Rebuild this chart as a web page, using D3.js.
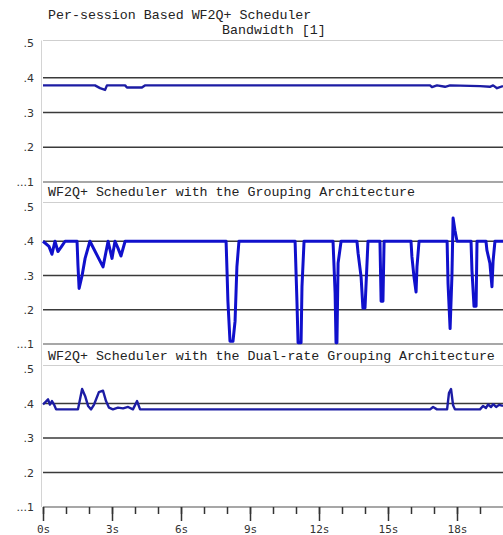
<!DOCTYPE html>
<html lang="en">
<head>
    <meta charset="UTF-8">
    <title>WF2Q+ Scheduler Bandwidth</title>
    <script src="https://d3js.org/d3.v7.min.js"></script>
    <style>
        body {
            margin: 0;
            background: #fff;
        }
        .title {
            font-family: 'Liberation Mono', monospace;
            font-size: 13.3px;
            fill: #222;
        }
        .yaxis text {
            font-family: 'DejaVu Sans', sans-serif;
            font-size: 11px;
            fill: #333;
        }
        .xaxis text {
            font-family: 'DejaVu Sans Mono', monospace;
            font-size: 11px;
            fill: #333;
        }
        .xaxis line {
            stroke: #333;
            stroke-width: 1.5px;
        }
        .yaxis path, .yaxis line, .xaxis path {
            display: none;
        }
    </style>
</head>
<body>
    <div id="chart"></div>

    <script>
        // time (s) and bandwidth for each scheduler
        const perSessionTime = [0, 2.26, 2.48, 2.70, 2.78, 3.57, 3.65, 4.30, 4.43, 16.83, 16.91, 17.13, 17.48, 17.70, 19.0, 19.43, 19.57, 19.74, 20];
        const perSessionBw = [0.378, 0.378, 0.370, 0.365, 0.378, 0.378, 0.372, 0.372, 0.378, 0.378, 0.373, 0.378, 0.374, 0.378, 0.376, 0.374, 0.378, 0.370, 0.376];

        const groupingTime = [0, 0.26, 0.39, 0.52, 0.65, 0.78, 0.96, 1.48, 1.52, 1.57, 1.70, 1.83, 2.04, 2.61, 2.83, 3.0, 3.13, 3.26, 3.39, 3.57,
            7.96, 8.0, 8.04, 8.13, 8.26, 8.35, 8.43, 8.52,
            10.96, 11.04, 11.09, 11.22, 11.26, 11.35,
            12.61, 12.70, 12.74, 12.78, 12.83, 12.96,
            13.65, 13.70, 13.83, 13.91, 14.0, 14.13,
            14.65, 14.70, 14.78, 14.83,
            16.0, 16.04, 16.13, 16.22, 16.26, 16.35,
            17.57, 17.61, 17.70, 17.78, 17.83, 17.91, 18.0,
            18.61, 18.65, 18.74, 18.83, 18.87,
            19.26, 19.30, 19.43, 19.52, 19.57, 19.65, 20];
        const groupingBw = [0.4, 0.385, 0.362, 0.4, 0.37, 0.382, 0.4, 0.4, 0.33, 0.262, 0.30, 0.35, 0.4, 0.325, 0.4, 0.35, 0.4, 0.38, 0.357, 0.4,
            0.4, 0.315, 0.225, 0.108, 0.108, 0.166, 0.325, 0.4,
            0.4, 0.227, 0.104, 0.104, 0.267, 0.4,
            0.4, 0.248, 0.104, 0.104, 0.336, 0.4,
            0.4, 0.365, 0.296, 0.205, 0.205, 0.4,
            0.4, 0.225, 0.225, 0.4,
            0.4, 0.355, 0.296, 0.252, 0.325, 0.4,
            0.4, 0.277, 0.145, 0.30, 0.468, 0.432, 0.4,
            0.4, 0.315, 0.21, 0.21, 0.4,
            0.4, 0.374, 0.336, 0.267, 0.343, 0.4, 0.4];

        const dualRateTime = [0, 0.22, 0.30, 0.39, 0.48, 0.57, 1.52, 1.70, 1.83, 1.96, 2.09, 2.22, 2.43, 2.61, 2.74, 2.87, 3.04, 3.26, 3.48, 3.70, 3.91, 4.09, 4.22,
            16.83, 16.96, 17.13, 17.57, 17.65, 17.74, 17.83, 17.91, 19.0, 19.13, 19.26, 19.35, 19.48, 19.57, 19.70, 19.83, 20];
        const dualRateBw = [0.397, 0.412, 0.397, 0.407, 0.397, 0.383, 0.383, 0.442, 0.422, 0.393, 0.383, 0.397, 0.433, 0.437, 0.407, 0.388, 0.383, 0.388, 0.386, 0.390, 0.383, 0.407, 0.383,
            0.383, 0.390, 0.383, 0.383, 0.430, 0.442, 0.395, 0.383, 0.383, 0.393, 0.387, 0.397, 0.390, 0.398, 0.390, 0.396, 0.393];

        const panelTitles = [
            "Per-session Based WF2Q+ Scheduler",
            "WF2Q+ Scheduler with the Grouping Architecture",
            "WF2Q+ Scheduler with the Dual-rate Grouping Architecture"
        ];
        const yTicks = [0.1, 0.2, 0.3, 0.4, 0.5];
        const xMajor = [0, 3, 6, 9, 12, 15, 18];
        const xMinor = d3.range(0, 20);

        const width = 503, height = 535;
        const left = 43;

        const svg = d3.select("#chart").append("svg")
            .attr("width", width)
            .attr("height", height);

        const x = d3.scaleLinear().domain([0, 20]).range([left, width]);

        // pixel positions of each panel (value .1 -> bottom, .5 -> top)
        const panels = [
            { bottom: 182, top: 43, frame: 40.5, titleY: 19, time: perSessionTime, bw: perSessionBw, color: "#1c1ca4", lw: 2.4 },
            { bottom: 344, top: 207, frame: 202.5, titleY: 196, time: groupingTime, bw: groupingBw, color: "#1010cc", lw: 3 },
            { bottom: 507, top: 369, frame: 365.5, titleY: 360, time: dualRateTime, bw: dualRateBw, color: "#1c1ca4", lw: 2.4 }
        ];

        // left vertical line
        svg.append("line")
            .attr("x1", left - 1.5).attr("x2", left - 1.5)
            .attr("y1", panels[0].frame).attr("y2", panels[2].bottom)
            .attr("stroke", "#d4d4d4").attr("stroke-width", 1);

        panels.forEach((p, i) => {
            const y = d3.scaleLinear().domain([0.1, 0.5]).range([p.bottom, p.top]);
            const g = svg.append("g");

            // top frame line
            g.append("line")
                .attr("x1", left).attr("x2", width)
                .attr("y1", p.frame).attr("y2", p.frame)
                .attr("stroke", "#cfcfcf").attr("stroke-width", 1);

            // grid lines
            g.selectAll(".grid")
                .data([0.2, 0.3, 0.4])
                .enter().append("line")
                .attr("x1", left).attr("x2", width)
                .attr("y1", d => y(d)).attr("y2", d => y(d))
                .attr("stroke", "#3a3a3a").attr("stroke-width", 1.4);

            // bottom line
            g.append("line")
                .attr("x1", left).attr("x2", width)
                .attr("y1", y(0.1)).attr("y2", y(0.1))
                .attr("stroke", "#8a8a8a").attr("stroke-width", 1.4);

            // series
            const pts = p.time.map((t, k) => [t, p.bw[k]]);
            g.append("path")
                .datum(pts)
                .attr("fill", "none")
                .attr("stroke", p.color)
                .attr("stroke-width", p.lw)
                .attr("stroke-linejoin", "round")
                .attr("d", d3.line().x(d => x(d[0])).y(d => y(d[1])));

            // y axis labels
            g.append("g")
                .attr("class", "yaxis")
                .attr("transform", `translate(${left},0)`)
                .call(d3.axisLeft(y).tickValues(yTicks).tickSize(0).tickPadding(9)
                    .tickFormat(d => d === 0.1 ? "...1" : "." + Math.round(d * 10)));

            // title
            g.append("text")
                .attr("class", "title")
                .attr("x", 48)
                .attr("y", p.titleY)
                .text(panelTitles[i]);
        });

        svg.append("text")
            .attr("class", "title")
            .attr("x", 222)
            .attr("y", 34)
            .text("Bandwidth [1]");

        // x axis: minor ticks then major ticks with labels
        svg.append("g")
            .attr("class", "xaxis")
            .attr("transform", `translate(0,${panels[2].bottom})`)
            .call(d3.axisBottom(x).tickValues(xMinor).tickSize(7).tickFormat(""));

        svg.append("g")
            .attr("class", "xaxis")
            .attr("transform", `translate(0,${panels[2].bottom})`)
            .call(d3.axisBottom(x).tickValues(xMajor).tickSize(14).tickPadding(4)
                .tickFormat(d => d + "s"));
    </script>
</body>
</html>
